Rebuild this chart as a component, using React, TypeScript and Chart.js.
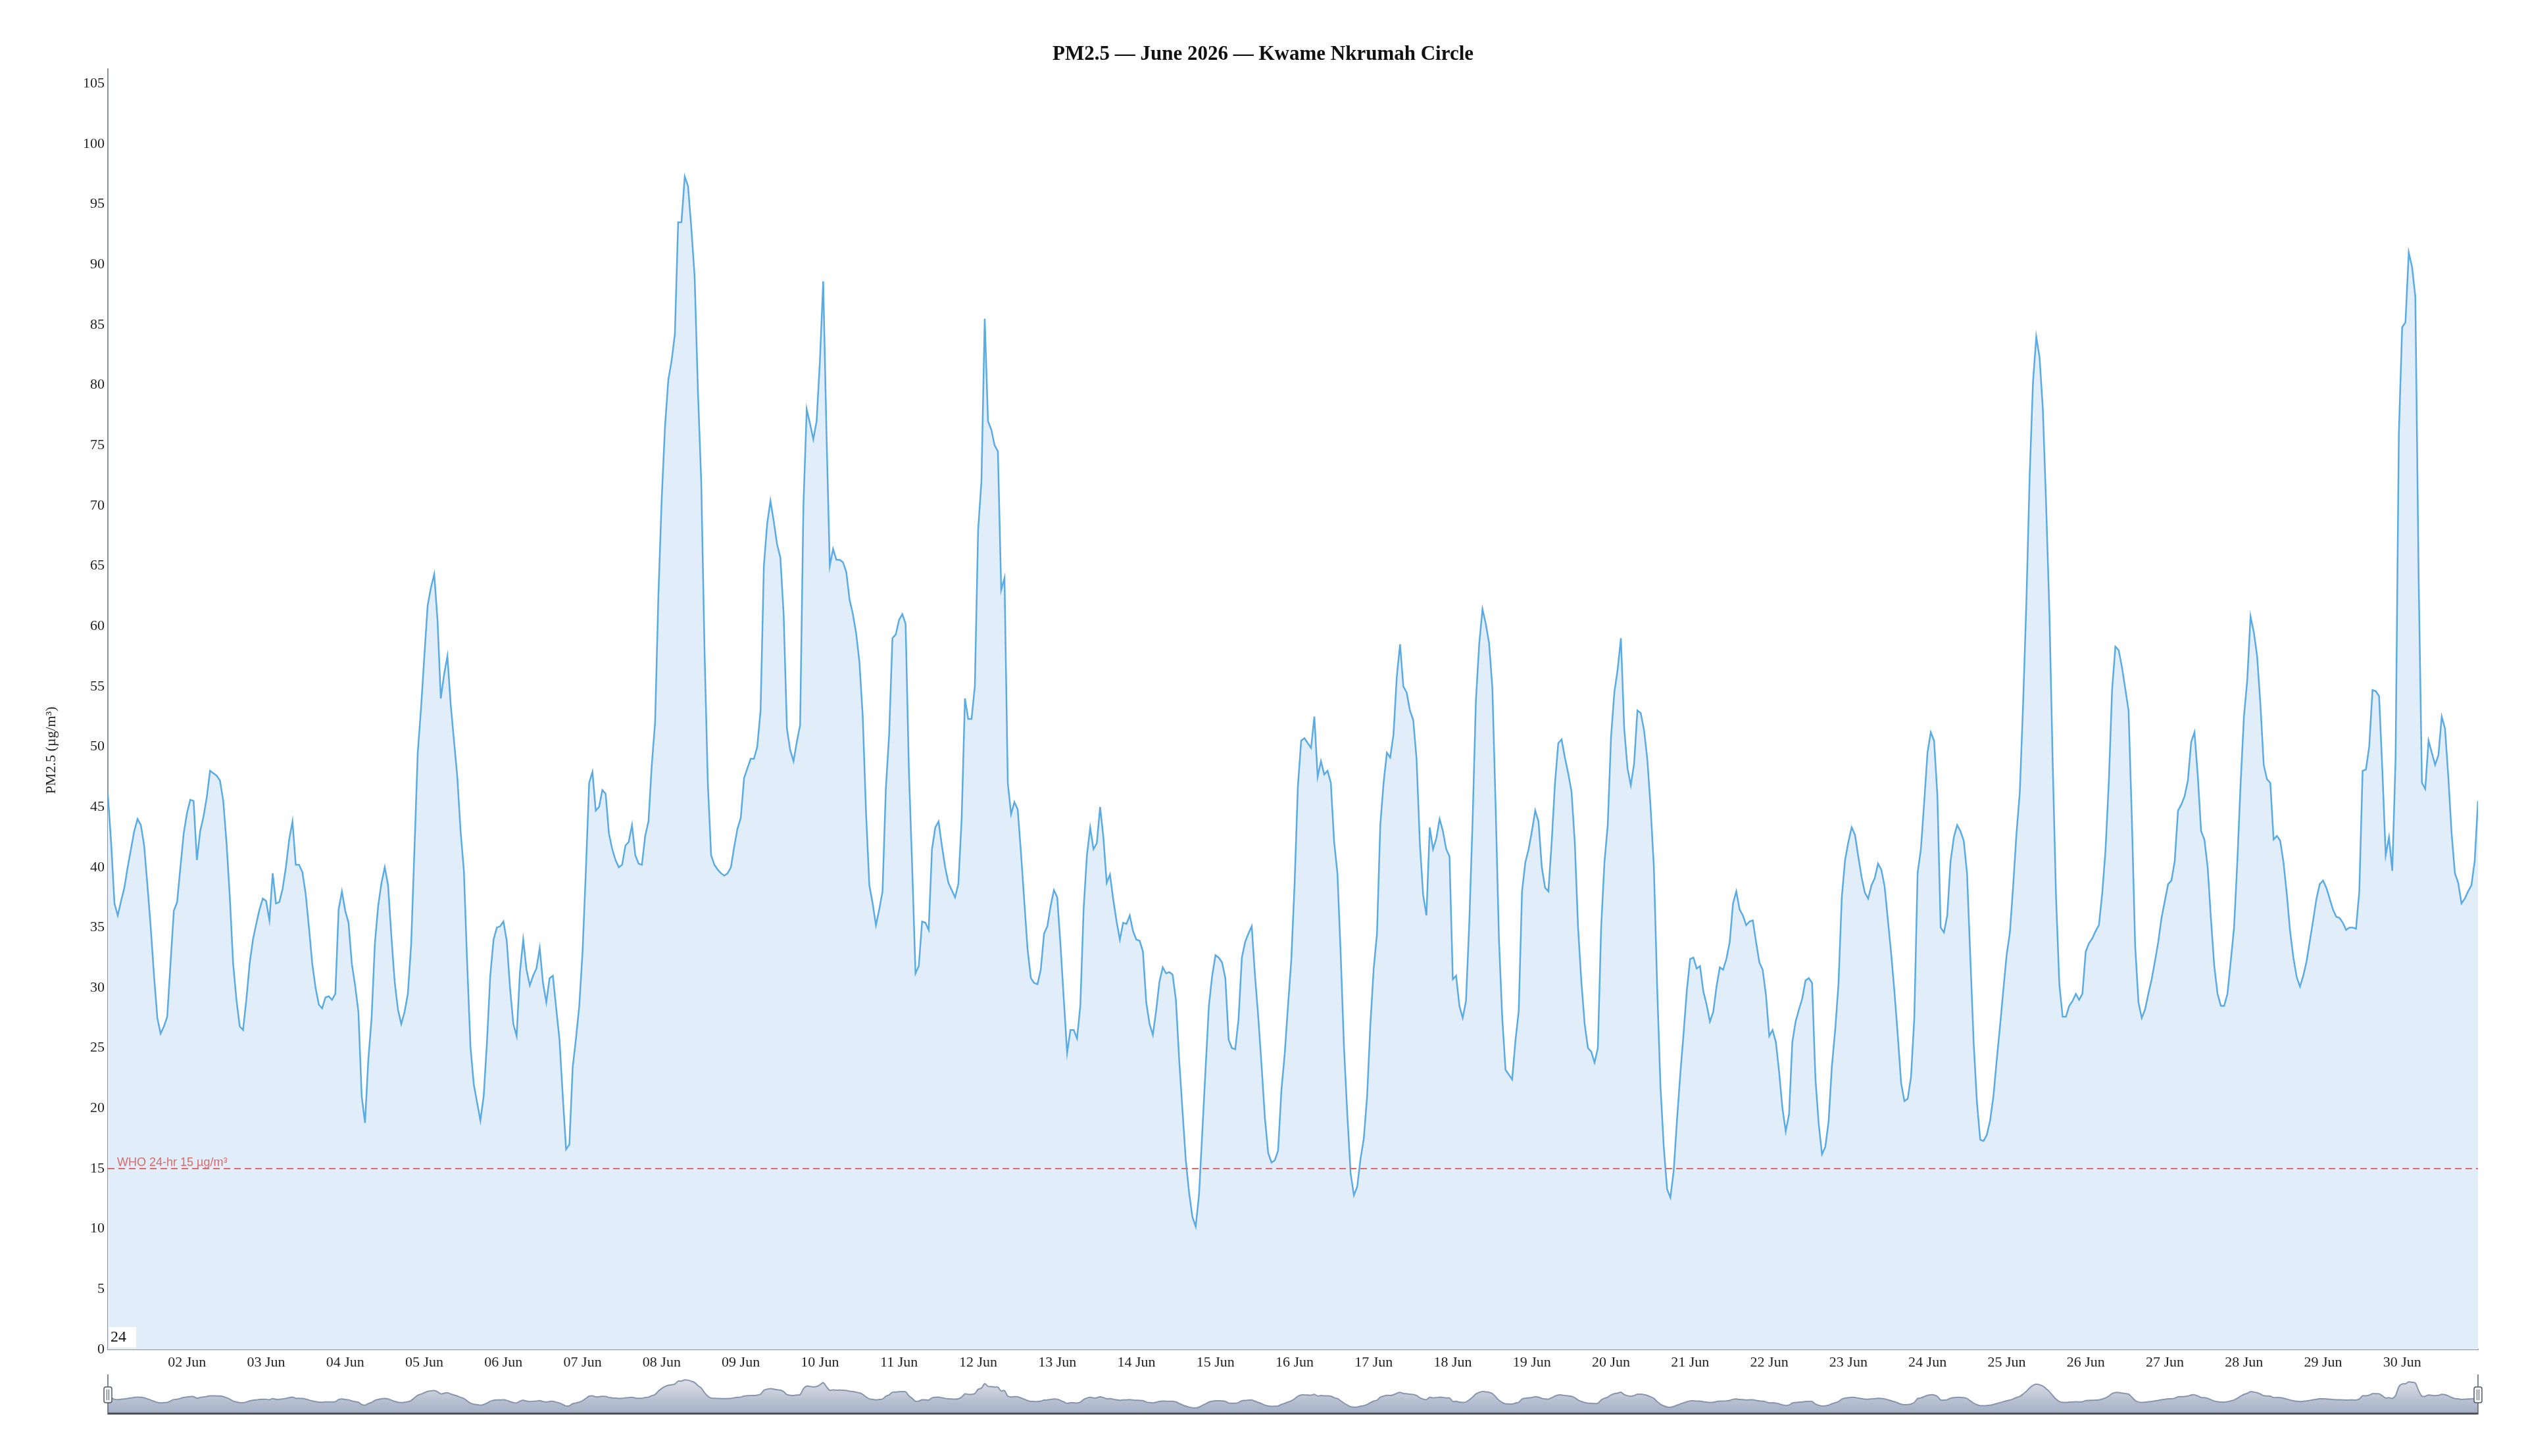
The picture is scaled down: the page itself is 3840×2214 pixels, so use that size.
import { useEffect, useRef } from "react";
import { Chart, registerables } from "chart.js";

Chart.register(...registerables);

const TITLE = "PM2.5 — June 2026 — Kwame Nkrumah Circle";
const Y_NAME = "PM2.5 (µg/m³)";
const WHO_LIMIT = 15;
const WHO_LABEL = "WHO 24-hr 15 µg/m³";
const CORNER_LABEL = "24";

const DAY_TICKS = [
  "02 Jun", "03 Jun", "04 Jun", "05 Jun", "06 Jun", "07 Jun", "08 Jun", "09 Jun", "10 Jun",
  "11 Jun", "12 Jun", "13 Jun", "14 Jun", "15 Jun", "16 Jun", "17 Jun", "18 Jun", "19 Jun",
  "20 Jun", "21 Jun", "22 Jun", "23 Jun", "24 Jun", "25 Jun", "26 Jun", "27 Jun", "28 Jun",
  "29 Jun", "30 Jun",
];

// hourly PM2.5 readings (µg/m³), one row per day, starting 01 Jun 00:00
const WEEK_1 = [
  46, 42, 37, 36, 37.2, 38.3, 40, 41.5, 43, 44, 43.5, 41.8, 38.5, 35, 31, 27.5, 26.2, 26.8, 27.6, 32, 36.4, 37.1, 40, 42.8,
  44.5, 45.6, 45.5, 40.6, 43, 44.2, 45.8, 48, 47.8, 47.6, 47.2, 45.5, 42, 37.5, 32, 29, 26.8, 26.5, 29, 32, 34, 35.3, 36.5, 37.4,
  37.2, 35.6, 39.5, 37, 37.1, 38.2, 40, 42.3, 43.8, 40.2, 40.2, 39.6, 37.8, 35, 32, 30, 28.6, 28.3, 29.2, 29.3, 29, 29.5, 36.5, 38,
  36.4, 35.4, 32, 30.2, 28, 21, 18.8, 24, 27.5, 33.7, 36.8, 38.7, 40, 38.5, 34.3, 30.5, 28.2, 27, 28, 29.5, 33.6, 41.5, 49.5, 53.2,
  57.5, 61.7, 63.2, 64.3, 60.5, 54, 56, 57.5, 53.5, 50.5, 47.5, 43, 39.7, 32, 25.1, 22, 20.5, 19, 21, 25.5, 31, 34, 35, 35.1,
  35.5, 33.9, 30, 27, 26, 31.3, 34, 31.5, 30.2, 31, 31.6, 33.3, 30.4, 28.8, 30.8, 31, 28.3, 25.7, 21, 16.6, 17, 23.4, 25.8, 28.5,
  33, 39.7, 47, 47.9, 44.7, 45, 46.4, 46.1, 42.8, 41.5, 40.6, 40, 40.2, 41.8, 42.1, 43.5, 41, 40.3, 40.2, 42.6, 43.8, 48.5, 52, 62.5,
];

const WEEK_2 = [
  70.5, 76.5, 80.4, 82, 84.2, 93.5, 93.5, 97.3, 96.5, 93, 89, 79.5, 72, 58, 47, 41, 40.2, 39.8, 39.5, 39.3, 39.5, 40, 41.7, 43.2,
  44.1, 47.4, 48.2, 49, 49, 50, 53, 65, 68.5, 70.4, 68.7, 66.8, 65.7, 61, 51.5, 49.7, 48.8, 50.4, 51.8, 70, 78, 76.8, 75.5, 77,
  82, 88.6, 76, 65, 66.4, 65.5, 65.5, 65.3, 64.5, 62.2, 61, 59.4, 57, 52.5, 44.5, 38.5, 37, 35.2, 36.5, 38, 46.5, 51, 59, 59.3,
  60.5, 61, 60.2, 48, 40, 31.2, 31.8, 35.5, 35.4, 34.8, 41.5, 43.3, 43.8, 41.8, 40, 38.7, 38.1, 37.5, 38.6, 44, 54, 52.3, 52.3, 55,
  68, 72, 85.5, 77, 76.3, 75, 74.5, 63, 64, 47, 44.4, 45.4, 44.8, 41.2, 37.2, 33.2, 30.8, 30.4, 30.3, 31.5, 34.5, 35.1, 36.8, 38.1,
  37.5, 33.5, 29, 24.6, 26.5, 26.5, 25.8, 28.5, 36.5, 41, 43.3, 41.5, 42, 45, 42.5, 38.7, 39.4, 37.3, 35.5, 34, 35.4, 35.3, 36, 34.7,
  34, 33.9, 33, 28.8, 27, 26.1, 28.1, 30.5, 31.7, 31.2, 31.3, 31.1, 29, 24, 19.8, 15.7, 13, 11, 10.2, 12.8, 18, 23.3, 28.5, 31,
];

const WEEK_3 = [
  32.7, 32.5, 32.1, 30.8, 25.7, 25, 24.9, 27.4, 32.5, 33.8, 34.5, 35.1, 31, 27.5, 23.5, 19.2, 16.3, 15.5, 15.7, 16.5, 21.5, 24.5, 28.5, 32.3,
  38.6, 46.7, 50.5, 50.7, 50.3, 49.9, 52.5, 47.5, 48.8, 47.7, 48, 47, 42.1, 39.5, 32.7, 25, 19.5, 14.6, 12.8, 13.5, 15.8, 17.5, 21, 27,
  31.6, 34.5, 43.5, 47, 49.5, 49.1, 51, 55.8, 58.5, 55, 54.5, 53, 52.2, 49, 42, 37.7, 36, 43.3, 41.5, 42.4, 44, 43, 41.5, 40.9,
  30.7, 31, 28.5, 27.5, 28.9, 35.4, 43.8, 53.8, 58.5, 61.4, 60.2, 58.6, 54.9, 45, 34, 27.5, 23.2, 22.8, 22.4, 25.6, 28.1, 38, 40.4, 41.5,
  43, 44.7, 43.8, 40, 38.3, 38, 42.1, 47, 50.3, 50.6, 49.1, 47.8, 46.3, 42.1, 35, 30.5, 27, 25, 24.7, 23.8, 25, 35, 40.4, 43.5,
  50.8, 54.5, 56.4, 59, 51.5, 48.2, 46.8, 48.6, 53, 52.8, 51.4, 49, 45, 40, 30, 21.8, 16.8, 13.3, 12.6, 14.8, 19, 22.8, 26.2, 29.8,
  32.4, 32.5, 31.6, 31.8, 29.7, 28.6, 27.2, 28, 30.1, 31.7, 31.5, 32.4, 33.8, 37, 38, 36.5, 36, 35.2, 35.5, 35.6, 33.8, 32.1, 31.5, 29.4,
];

const WEEK_4 = [
  26, 26.5, 25.5, 23, 20, 18.1, 19.5, 25.5, 27.2, 28.2, 29.1, 30.6, 30.8, 30.4, 22.5, 18.7, 16.2, 16.8, 18.9, 23.5, 26.5, 30.3, 37.5, 40.6,
  42.1, 43.3, 42.7, 40.9, 39.2, 37.9, 37.4, 38.5, 39.1, 40.3, 39.8, 38.4, 35.6, 32.8, 29.6, 26, 22.1, 20.6, 20.8, 22.6, 27.5, 39.5, 41.5, 45.4,
  49.5, 51.2, 50.5, 46, 35, 34.6, 36, 40.5, 42.5, 43.5, 43, 42.2, 39.5, 32.5, 25.5, 20.5, 17.4, 17.3, 17.8, 19, 21, 24, 26.8, 29.8,
  32.7, 34.6, 38.5, 42.8, 46.2, 53.5, 62, 72.5, 80.2, 84, 82.3, 78, 70, 61, 48.5, 37.5, 30.3, 27.6, 27.6, 28.5, 28.9, 29.5, 29, 29.5,
  33, 33.7, 34.1, 34.7, 35.2, 37.8, 41.4, 47, 54.7, 58.3, 58, 56.6, 54.8, 53, 44, 33.5, 28.8, 27.5, 28.2, 29.5, 30.7, 32.2, 33.8, 35.8,
  37.2, 38.6, 38.9, 40.5, 44.7, 45.2, 45.9, 47.2, 50.4, 51.2, 47.6, 43, 42.3, 40, 35.7, 31.8, 29.5, 28.5, 28.5, 29.5, 32.2, 35, 40.5, 47,
  52.5, 55.5, 60.8, 59.5, 57.5, 53.5, 48.5, 47.3, 47, 42.3, 42.6, 42.2, 40.4, 37.8, 34.7, 32.5, 30.9, 30.1, 31, 32.2, 33.9, 35.6, 37.4, 38.6,
];

const LAST_DAYS = [
  38.9, 38.3, 37.4, 36.5, 35.9, 35.8, 35.4, 34.8, 35, 35, 34.9, 38, 48, 48.1, 50, 54.7, 54.6, 54.2, 48, 41, 42.5, 39.7, 49, 76,
  84.8, 85.2, 91, 89.8, 87.3, 64, 47, 46.5, 50.5, 49.5, 48.5, 49.3, 52.5, 51.5, 47.5, 42.8, 39.5, 38.7, 37, 37.4, 38, 38.5, 40.5, 45.5,
];

const PM25 = [...WEEK_1, ...WEEK_2, ...WEEK_3, ...WEEK_4, ...LAST_DAYS];

const SERIF = "'Liberation Serif', 'Times New Roman', serif";
const SANS = "'Liberation Sans', Arial, sans-serif";
const LINE_COLOR = "#5aabe3";
const FILL_COLOR = "#e1eefa";
const AXIS_COLOR = "#8d939c";
const WHO_COLOR = "#d96a6a";

const points = () => PM25.map((v, i) => ({ x: i, y: v }));

const overlayPlugin = {
  id: "overlay",
  afterDatasetsDraw(chart: any) {
    const { ctx, chartArea: a, scales } = chart;
    const y = scales.y.getPixelForValue(WHO_LIMIT);
    ctx.save();
    // WHO guideline
    ctx.strokeStyle = WHO_COLOR;
    ctx.lineWidth = 2;
    ctx.setLineDash([10, 6]);
    ctx.beginPath();
    ctx.moveTo(a.left, y);
    ctx.lineTo(a.right, y);
    ctx.stroke();
    ctx.setLineDash([]);
    ctx.fillStyle = WHO_COLOR;
    ctx.font = `18px ${SANS}`;
    ctx.textAlign = "left";
    ctx.textBaseline = "alphabetic";
    ctx.fillText(WHO_LABEL, a.left + 14, y - 4);

    // small boxed label in the corner
    ctx.fillStyle = "#ffffff";
    ctx.fillRect(a.left + 2, a.bottom - 34, 41, 31);
    ctx.fillStyle = "#111";
    ctx.font = `24px ${SERIF}`;
    ctx.textBaseline = "middle";
    ctx.fillText(CORNER_LABEL, a.left + 4, a.bottom - 18);

    // y axis name
    ctx.translate(78, a.top + (a.bottom - a.top) * 0.532);
    ctx.rotate(-Math.PI / 2);
    ctx.textAlign = "center";
    ctx.fillStyle = "#222";
    ctx.font = `22px ${SERIF}`;
    ctx.fillText(Y_NAME, 0, 0);
    ctx.restore();
  },
};

function MainChart() {
  const canvasRef = useRef<HTMLCanvasElement>(null);

  useEffect(() => {
    if (!canvasRef.current) return;
    const chart = new Chart(canvasRef.current, {
      type: "line",
      data: {
        datasets: [
          {
            label: "PM2.5",
            data: points(),
            borderColor: LINE_COLOR,
            backgroundColor: FILL_COLOR,
            borderWidth: 2.5,
            pointRadius: 0,
            tension: 0,
            fill: "origin",
          },
        ],
      },
      options: {
        animation: false,
        responsive: true,
        maintainAspectRatio: false,
        layout: { padding: { left: 0, right: 0, top: 0, bottom: 127 } },
        plugins: {
          legend: { display: false },
          tooltip: { enabled: false },
          title: {
            display: true,
            text: TITLE,
            color: "#111",
            font: { family: SERIF, size: 31, weight: "bold" },
            padding: { top: 64, bottom: 4 },
          },
        },
        scales: {
          x: {
            type: "linear",
            min: 0,
            max: PM25.length - 1,
            grid: { display: false, drawTicks: false },
            border: { display: true, color: AXIS_COLOR, width: 2 },
            ticks: {
              autoSkip: false,
              maxRotation: 0,
              padding: 7,
              color: "#222",
              font: { family: SERIF, size: 22 },
              callback: (v: any) => DAY_TICKS[Number(v) / 24 - 1] ?? "",
            },
            afterBuildTicks: (s: any) => {
              s.ticks = DAY_TICKS.map((_, i) => ({ value: (i + 1) * 24 }));
            },
            afterFit: (s: any) => {
              s.height = 35;
            },
          },
          y: {
            min: 0,
            max: 106.2,
            grid: { display: false, drawTicks: false },
            border: { display: true, color: AXIS_COLOR, width: 2 },
            ticks: {
              stepSize: 5,
              includeBounds: false,
              padding: 5,
              color: "#222",
              font: { family: SERIF, size: 22 },
            },
            afterFit: (s: any) => {
              s.width = 164;
            },
          },
          pad: {
            position: "right",
            grid: { display: false, drawTicks: false },
            border: { display: false },
            ticks: { display: false },
            afterFit: (s: any) => {
              s.width = 73;
            },
          },
        },
      },
      plugins: [overlayPlugin],
    } as any);
    return () => chart.destroy();
  }, []);

  return <canvas ref={canvasRef} role="img" aria-label={TITLE} />;
}

const handlesPlugin = {
  id: "handles",
  afterDraw(chart: any) {
    const { ctx, chartArea: a } = chart;
    ctx.save();
    ctx.strokeStyle = "#4d525c";
    ctx.lineWidth = 3;
    ctx.beginPath();
    ctx.moveTo(a.left, a.bottom + 1.5);
    ctx.lineTo(a.right, a.bottom + 1.5);
    ctx.stroke();

    const midY = a.top + 29;
    for (const x of [a.left, a.right]) {
      ctx.strokeStyle = "#5a5f68";
      ctx.lineWidth = 1.5;
      ctx.beginPath();
      ctx.moveTo(x, a.top - 2);
      ctx.lineTo(x, a.bottom + 3);
      ctx.stroke();

      ctx.fillStyle = "#f4f4f4";
      ctx.strokeStyle = "#555a63";
      ctx.lineWidth = 1.5;
      ctx.beginPath();
      ctx.roundRect(x - 6, midY - 12, 12, 24, 3);
      ctx.fill();
      ctx.stroke();
      ctx.lineWidth = 1;
      ctx.beginPath();
      ctx.moveTo(x - 1.5, midY - 8);
      ctx.lineTo(x - 1.5, midY + 8);
      ctx.moveTo(x + 1.5, midY - 8);
      ctx.lineTo(x + 1.5, midY + 8);
      ctx.stroke();
    }
    ctx.restore();
  },
};

function Navigator() {
  const canvasRef = useRef<HTMLCanvasElement>(null);

  useEffect(() => {
    if (!canvasRef.current) return;
    const chart = new Chart(canvasRef.current, {
      type: "line",
      data: {
        datasets: [
          {
            data: points(),
            borderColor: "#8796ae",
            borderWidth: 2,
            pointRadius: 0,
            tension: 0.3,
            fill: "start",
            backgroundColor: (context: any) => {
              const { ctx, chartArea } = context.chart;
              if (!chartArea) return "#c3cad6";
              const g = ctx.createLinearGradient(0, chartArea.top, 0, chartArea.bottom);
              g.addColorStop(0, "#e4e4ea");
              g.addColorStop(1, "#a3b0c5");
              return g;
            },
          },
        ],
      },
      options: {
        animation: false,
        responsive: true,
        maintainAspectRatio: false,
        layout: { padding: { left: 164, right: 73, top: 12, bottom: 12 } },
        plugins: { legend: { display: false }, tooltip: { enabled: false } },
        scales: {
          x: { type: "linear", min: 0, max: PM25.length - 1, display: false },
          y: { min: -4, max: 110, display: false },
        },
      },
      plugins: [handlesPlugin],
    } as any);
    return () => chart.destroy();
  }, []);

  return <canvas ref={canvasRef} role="img" aria-label="Data zoom overview" />;
}

export default function App() {
  return (
    <div
      style={{
        position: "fixed",
        left: 0,
        top: 0,
        width: 3840,
        height: 2214,
        background: "#ffffff",
        overflow: "hidden",
      }}
    >
      <div style={{ position: "absolute", left: 0, top: 0, width: 3840, height: 2214 }}>
        <MainChart />
      </div>
      <div style={{ position: "absolute", left: 0, top: 2080, width: 3840, height: 80 }}>
        <Navigator />
      </div>
    </div>
  );
}
